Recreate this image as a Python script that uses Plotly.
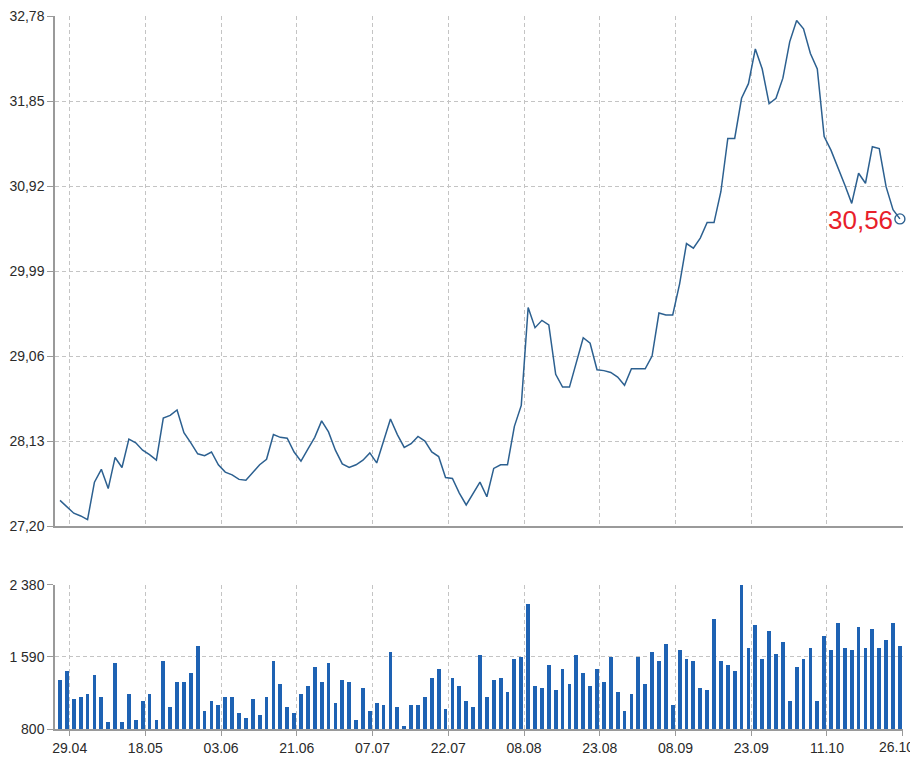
import plotly.graph_objects as go

# ---- data ----
price = [27.48, 27.41, 27.34, 27.31, 27.27, 27.68, 27.82, 27.61, 27.95, 27.84,
         28.15, 28.11, 28.03, 27.98, 27.92, 28.38, 28.41, 28.47, 28.22, 28.11,
         27.99, 27.97, 28.01, 27.87, 27.79, 27.76, 27.71, 27.70, 27.78, 27.87,
         27.93, 28.20, 28.17, 28.16, 28.01, 27.91, 28.04, 28.17, 28.35, 28.23,
         28.03, 27.88, 27.84, 27.87, 27.92, 28.00, 27.89, 28.12, 28.37, 28.20,
         28.06, 28.10, 28.18, 28.13, 28.01, 27.96, 27.73, 27.72, 27.56, 27.43,
         27.56, 27.68, 27.52, 27.83, 27.87, 27.87, 28.29, 28.52, 29.59, 29.37,
         29.45, 29.40, 28.86, 28.72, 28.72, 28.98, 29.26, 29.20, 28.91, 28.90,
         28.88, 28.83, 28.74, 28.92, 28.92, 28.92, 29.06, 29.53, 29.51, 29.51,
         29.85, 30.29, 30.24, 30.35, 30.52, 30.52, 30.86, 31.44, 31.44, 31.88,
         32.04, 32.42, 32.20, 31.82, 31.88, 32.10, 32.50, 32.73, 32.64, 32.37,
         32.20, 31.46, 31.31, 31.13, 30.93, 30.73, 31.06, 30.95, 31.35, 31.33,
         30.91, 30.66, 30.56]

volume = [1338, 1436, 1129, 1155, 1180, 1389, 1155, 880, 1528, 880,
          1180, 899, 1111, 1180, 899, 1550, 1041, 1316, 1316, 1411,
          1711, 994, 1111, 1063, 1155, 1155, 972, 924, 1133, 950,
          1155, 1550, 1294, 1041, 972, 1180, 1272, 1480, 1316, 1528,
          1085, 1341, 1316, 899, 1250, 994, 1085, 1063, 1645, 1041,
          833, 1063, 1063, 1155, 1363, 1458, 1016, 1363, 1272, 1111,
          1041, 1615, 1155, 1341, 1363, 1202, 1572, 1594, 2175, 1272,
          1250, 1502, 1224, 1458, 1294, 1615, 1411, 1272, 1458, 1316,
          1594, 1202, 994, 1180, 1594, 1294, 1641, 1550, 1736, 1063,
          1667, 1572, 1550, 1250, 1224, 2010, 1550, 1502, 1433, 2380,
          1689, 1941, 1572, 1875, 1619, 1758, 1107, 1480, 1572, 1689,
          1107, 1824, 1667, 1967, 1689, 1667, 1919, 1689, 1897, 1689,
          1780, 1967, 1711]

tick_labels = ["29.04", "18.05", "03.06", "21.06", "07.07", "22.07",
               "08.08", "23.08", "08.09", "23.09", "11.10", "26.10"]
tick_index = [1, 12, 23, 34, 45, 56, 67, 78, 89, 100, 111, 122]

price_ticks = [32.78, 31.85, 30.92, 29.99, 29.06, 28.13, 27.20]
price_tick_text = ["32,78", "31,85", "30,92", "29,99", "29,06", "28,13", "27,20"]
vol_ticks = [2380, 1590, 800]
vol_tick_text = ["2 380", "1 590", "800"]
last_label = "30,56"

# ---- styling ----
LINE_C = "#2c6090"
BAR_C = "#1e62b3"
GRID_C = "#c4c4c4"
AXIS_C = "#9a9a9a"
FONT = "Liberation Sans Narrow, Arial Narrow, Liberation Sans, Arial, sans-serif"
TICKFONT = dict(family=FONT, size=14, color="#2a2a2a")

x = list(range(len(price)))
tickvals = [t + 0.4 for t in tick_index]
xrange = [-0.73, 122.45]
# last date label sits at the right edge: drawn as an annotation so it stays visible
tick_text_axis = tick_labels[:-1] + [""]

fig = go.Figure()
fig.add_trace(go.Scatter(x=x, y=price, mode="lines",
                         line=dict(color=LINE_C, width=1.5),
                         xaxis="x2", yaxis="y2", showlegend=False,
                         cliponaxis=False))
fig.add_trace(go.Scatter(x=[x[-1]], y=[price[-1]], mode="markers",
                         marker=dict(symbol="circle-open", size=10,
                                     color=LINE_C, line=dict(width=1.4)),
                         xaxis="x2", yaxis="y2", showlegend=False,
                         cliponaxis=False))
fig.add_trace(go.Bar(x=x, y=volume, marker=dict(color=BAR_C, line=dict(width=0)),
                     width=0.55, xaxis="x", yaxis="y", showlegend=False))

fig.add_annotation(x=x[-1], y=price[-1], xref="x2", yref="y2",
                   text=last_label, showarrow=False, xanchor="right",
                   yanchor="middle", xshift=-5, yshift=-1,
                   font=dict(family=FONT, size=26, color="#e8202a"))
fig.add_annotation(x=1, y=0, xref="paper", yref="paper", text=tick_labels[-1],
                   showarrow=False, xanchor="right", yanchor="top",
                   xshift=13, yshift=-8, font=TICKFONT)

common_x = dict(range=xrange, tickmode="array", tickvals=tickvals,
                showgrid=True, gridcolor=GRID_C, griddash="4px,3px", gridwidth=1,
                zeroline=False, showline=True, linecolor=AXIS_C, linewidth=1.5,
                automargin=False, ticklabeloverflow="allow")
common_y = dict(tickmode="array", showgrid=True, gridcolor=GRID_C,
                griddash="4px,3px", zeroline=False, showline=True,
                linecolor=AXIS_C, linewidth=1.5, ticks="outside", ticklen=6,
                tickcolor=AXIS_C, tickfont=TICKFONT, automargin=False,
                ticklabeloverflow="allow")

# page body has an 8px margin: size/margins compensate for it
fig.update_layout(
    width=910, height=759,
    margin=dict(l=47, r=15, t=8, b=38),
    paper_bgcolor="white", plot_bgcolor="white",
    bargap=0,
    font=dict(family=FONT, size=14, color="#2a2a2a"),
    xaxis=dict(**common_x, domain=[0, 1], anchor="y", ticktext=tick_text_axis,
               ticks="outside", ticklen=5, tickcolor=AXIS_C, tickfont=TICKFONT),
    xaxis2=dict(**common_x, domain=[0, 1], anchor="y2", matches="x",
                showticklabels=False, ticks=""),
    yaxis=dict(**common_y, domain=[0, 0.202], range=[800, 2380],
               tickvals=vol_ticks, ticktext=vol_tick_text),
    yaxis2=dict(**common_y, domain=[0.2847, 1], range=[27.20, 32.78],
                tickvals=price_ticks, ticktext=price_tick_text),
)

fig.write_html("out.html")
